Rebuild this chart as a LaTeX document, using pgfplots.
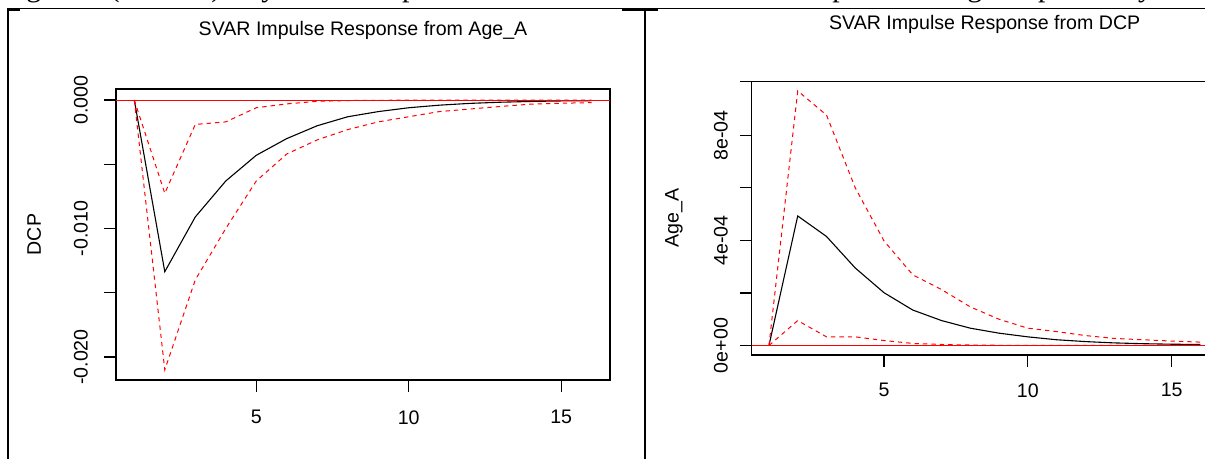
\documentclass[border=0pt]{standalone}
\usepackage{pgfplots}
\pgfplotsset{compat=1.18}
\usepackage{fontspec}
\setmainfont{Liberation Sans}
\newfontfamily\hdrfont{Liberation Serif}
\definecolor{rred}{RGB}{255,0,0}
\pgfplotsset{
  irf/.style={
    scale only axis,
    axis line style={black, line width=0.75pt},
    tick style={black, line width=0.6pt},
    tick align=outside,
    major tick length=6pt,
    xtick pos=bottom, ytick pos=left,
    xtick={5,10,15},
    xmin=0.4, xmax=16.6,
    scaled y ticks=false, scaled x ticks=false,
    /pgf/number format/assume math mode=true,
    xticklabel style={anchor=north, inner sep=0pt},
    every axis title/.style={at={(axis description cs:0.5,1)}, anchor=center},
    every axis y label/.style={rotate=90, anchor=center},
    clip=true,
  },
  resp/.style={black, line width=0.55pt},
  band/.style={rred, line width=0.5pt, dash pattern=on 2.2pt off 2pt},
  zero/.style={rred, line width=0.5pt},
}
\begin{document}
\begin{tikzpicture}
\fontsize{9.8pt}{11pt}\selectfont
\useasboundingbox (0pt,0pt) rectangle (602.5pt,229.5pt);
\clip (0pt,0pt) rectangle (602.5pt,229.5pt);
% header text (cut off at top)
\node[anchor=base west, inner sep=0pt, font=\hdrfont\fontsize{15pt}{17pt}\selectfont] at (0.5pt,231.4pt) {Figure 7 (Mexico): Dynamic Response coefficients Financial Development to Age Dependency Indicator};
% table borders
\draw[line width=0.5pt] (3.5pt,225.35pt) -- (602.5pt,225.35pt);
\draw[line width=1pt] (3.5pt,224.5pt) -- (10pt,224.5pt);
\draw[line width=1pt] (310.85pt,224.65pt) -- (329pt,224.65pt);
\draw[line width=1pt] (3.85pt,225pt) -- (3.85pt,0pt);
\draw[line width=1.2pt] (322.5pt,225pt) -- (322.5pt,0pt);
\draw[line width=0.8pt] (370pt,188.65pt) -- (376pt,188.65pt);
\coordinate (LSW) at (58pt,39.5pt);
\coordinate (RSW) at (375.85pt,52pt);
% left panel
\begin{axis}[irf,
  at={(LSW)}, anchor=south west,
  width=247pt, height=145.5pt,
  ymin=-0.02179, ymax=0.00086,
  ytick={-0.02,-0.015,-0.01,-0.005,0},
  yticklabels={-0.020,,-0.010,,0.000},
  yticklabel style={xshift=-7.85pt, rotate=90, anchor=south, inner sep=0pt},
  xticklabel style={yshift=-9pt},
  title={SVAR Impulse Response from Age\_A},
  title style={yshift=29.5pt},
  ylabel={DCP},
  ylabel style={at={(axis description cs:-0.1656,0.5)}},
]
\addplot[resp] coordinates {(1,0)(2,-0.01336)(3,-0.0091)(4,-0.0063)(5,-0.0043)(6,-0.0030)(7,-0.0020)(8,-0.0013)(9,-0.0009)(10,-0.0006)(11,-0.0004)(12,-0.00026)(13,-0.00017)(14,-0.00011)(15,-0.00007)(16,-0.00005)};
\addplot[band] coordinates {(1,0)(2,-0.00726)(3,-0.0019)(4,-0.0017)(5,-0.0006)(6,-0.0003)(7,-0.0001)(8,-0.00004)(9,-0.00002)(10,-0.00001)(11,0)(12,0)(13,0)(14,0)(15,0)(16,0)};
\addplot[band] coordinates {(1,0)(2,-0.0210)(3,-0.0140)(4,-0.0100)(5,-0.0063)(6,-0.0042)(7,-0.0031)(8,-0.0023)(9,-0.0017)(10,-0.0013)(11,-0.0009)(12,-0.0007)(13,-0.0005)(14,-0.00032)(15,-0.00025)(16,-0.0002)};
\addplot[zero] coordinates {(0.4,0)(16.6,0)};
\end{axis}
% right panel
\begin{axis}[irf,
  at={(RSW)}, anchor=south west,
  width=233pt, height=136.65pt,
  ymin=-0.36e-4, ymax=10.04e-4,
  ytick={0,2e-4,4e-4,6e-4,8e-4},
  yticklabels={0e+00,,4e-04,,8e-04},
  yticklabel style={xshift=-5.7pt, rotate=90, anchor=south, inner sep=0pt},
  xticklabel style={yshift=-8pt},
  title={SVAR Impulse Response from DCP},
  title style={yshift=28.6pt},
  ylabel={Age\_A},
  ylabel style={at={(axis description cs:-0.1667,0.5)}},
]
\addplot[resp] coordinates {(1,0)(2,4.93e-4)(3,4.15e-4)(4,2.95e-4)(5,2.01e-4)(6,1.35e-4)(7,0.95e-4)(8,0.66e-4)(9,0.47e-4)(10,0.33e-4)(11,0.22e-4)(12,0.15e-4)(13,0.10e-4)(14,0.07e-4)(15,0.05e-4)(16,0.04e-4)};
\addplot[band] coordinates {(1,0)(2,9.69e-4)(3,8.77e-4)(4,6.0e-4)(5,3.98e-4)(6,2.69e-4)(7,2.13e-4)(8,1.47e-4)(9,1.0e-4)(10,0.66e-4)(11,0.53e-4)(12,0.38e-4)(13,0.27e-4)(14,0.22e-4)(15,0.17e-4)(16,0.13e-4)};
\addplot[band] coordinates {(1,0)(2,0.95e-4)(3,0.33e-4)(4,0.33e-4)(5,0.19e-4)(6,0.08e-4)(7,0.04e-4)(8,0.02e-4)(9,0.01e-4)(10,0.01e-4)(11,0.01e-4)(12,0.01e-4)(13,0.01e-4)(14,0.01e-4)(15,0.01e-4)(16,0.01e-4)};
\addplot[zero] coordinates {(0.4,0)(16.6,0)};
\end{axis}
\end{tikzpicture}
\end{document}
